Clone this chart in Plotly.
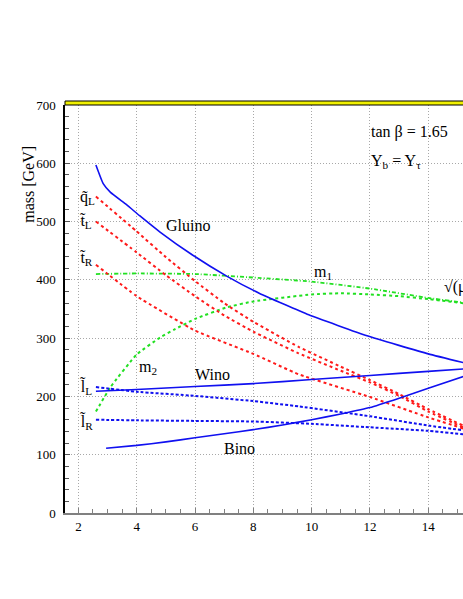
import plotly.graph_objects as go

# sparticle masses vs. scale
gluino_x = [2.6, 2.85, 3.1, 3.65, 4.1, 4.8, 5.9, 7.1, 8.2, 9.9, 11.9, 14.0, 15.2]
gluino_y = [597, 565, 550, 529, 510, 482, 443, 406, 377, 340, 304, 273, 258]

squark_x = [2.6, 4, 5, 6, 7, 8, 9.55, 11, 12, 13, 14, 15.2]
qL_y = [543, 483, 439, 398, 360, 328, 285, 251, 228, 204, 178, 150]
tL_y = [500, 447, 408, 372, 339, 311, 274, 244, 224, 201, 174, 147]

tR_x = [2.6, 4, 6, 8, 9.55, 12, 14, 15.2]
tR_y = [426, 372, 313, 273, 238, 199, 164, 145]

m1_x = [2.6, 4, 6, 8, 10, 12, 14, 15.2]
m1_y = [410, 411, 410, 404, 397, 385, 369, 361]

m2_x = [2.6, 3.1, 4, 4.8, 5.3, 6, 7.1, 8, 10, 11, 12, 13, 14, 15.2]
m2_y = [174, 216, 272, 301, 315, 333, 353, 363, 375, 377, 375, 372, 367, 360]

wino_x = [2.6, 4, 6, 8, 10, 12, 14, 15.2]
wino_y = [209, 212, 217, 222, 229, 236, 243, 247]

bino_x = [2.95, 4, 5, 6, 7, 8, 9, 10, 11, 12, 13, 14, 15.2]
bino_y = [111, 116, 122, 129, 136, 143, 151, 160, 170, 181, 197, 214, 234]

lL_x = [2.6, 4, 6, 8, 9.55, 12, 14, 15.2]
lL_y = [216, 208, 201, 192, 183, 166, 150, 142]

lR_x = [2.6, 4, 6, 8, 10, 12, 14, 15.2]
lR_y = [160, 159, 158, 157, 153, 147, 141, 135]

BLUE = "#1010f0"
RED = "#ff1a1a"
GREEN = "#22e022"
FONT = "Liberation Serif"

fig = go.Figure()


def add_curve(x, y, color, dash, width):
    fig.add_trace(go.Scatter(
        x=x, y=y, mode="lines", showlegend=False, hoverinfo="skip",
        line=dict(color=color, dash=dash, width=width, shape="spline", smoothing=0.4),
    ))


add_curve(m1_x, m1_y, GREEN, "4px,2px,1px,2px", 1.8)
add_curve(m2_x, m2_y, GREEN, "dot", 2)
add_curve(squark_x, qL_y, RED, "dot", 2)
add_curve(squark_x, tL_y, RED, "dot", 2)
add_curve(tR_x, tR_y, RED, "dot", 2)
add_curve(lL_x, lL_y, BLUE, "3px,2px", 2)
add_curve(lR_x, lR_y, BLUE, "3px,2px", 2)
add_curve(gluino_x, gluino_y, BLUE, "solid", 1.6)
add_curve(wino_x, wino_y, BLUE, "solid", 1.6)
add_curve(bino_x, bino_y, BLUE, "solid", 1.6)

labels = [
    (11.97, 654, "tan β = 1.65", "left"),
    (11.97, 603, "Y<sub>b</sub> = Y<sub>τ</sub>", "left"),
    (5.76, 493, "Gluino", "center"),
    (10.0, 413, "m<sub>1</sub>", "left"),
    (14.47, 389, "√(μ<sup>2</sup>+m<sub>0</sub><sup>2</sup>)", "left"),
    (4.01, 250, "m<sub>2</sub>", "left"),
    (6.61, 238, "Wino", "center"),
    (7.54, 110, "Bino", "center"),
    (1.98, 541, "q̃<sub>L</sub>", "left"),
    (1.98, 500, "t̃<sub>L</sub>", "left"),
    (1.98, 437, "t̃<sub>R</sub>", "left"),
    (1.98, 216, "l̃<sub>L</sub>", "left"),
    (1.98, 156, "l̃<sub>R</sub>", "left"),
]
for x, y, t, anchor in labels:
    fig.add_annotation(x=x, y=y, text=t, showarrow=False, xanchor=anchor,
                       yanchor="middle", font=dict(family=FONT, size=16, color="black"))

fig.add_annotation(xref="paper", yref="paper", x=-0.117, y=0.906, text="mass [GeV]",
                   textangle=-90, showarrow=False, font=dict(family=FONT, size=16, color="black"))

# yellow band along the top of the frame
fig.add_shape(type="rect", xref="paper", yref="paper", x0=0, x1=1.02, y0=1.0, y1=1.0 + 4 / 408,
              fillcolor="#f0f000", line=dict(color="black", width=1))

fig.update_layout(
    width=463,
    height=599,
    paper_bgcolor="white",
    plot_bgcolor="white",
    margin=dict(l=65, r=0, t=105, b=86),
    font=dict(family=FONT, size=13, color="black"),
    xaxis=dict(
        range=[1.54, 15.19],
        tickmode="linear", tick0=2, dtick=2,
        showgrid=True, gridcolor="#a8a8a8", griddash="1px,2px", gridwidth=1,
        showline=True, linecolor="#808080", linewidth=2,
        ticks="inside", ticklen=5, tickcolor="#808080",
        minor=dict(dtick=0.5, ticks="inside", ticklen=4, tickcolor="#808080", showgrid=False),
        zeroline=False,
    ),
    yaxis=dict(
        range=[0, 700],
        tickmode="linear", tick0=0, dtick=100,
        ticklabelstandoff=5,
        showgrid=True, gridcolor="#a8a8a8", griddash="1px,2px", gridwidth=1,
        showline=True, linecolor="black", linewidth=1.5,
        ticks="inside", ticklen=5, tickcolor="#555555",
        minor=dict(dtick=20, ticks="inside", ticklen=4, tickcolor="#555555", showgrid=False),
        zeroline=False,
    ),
)

fig.write_html("out.html", config={"displayModeBar": False},
               post_script="document.body.style.margin='0';")
